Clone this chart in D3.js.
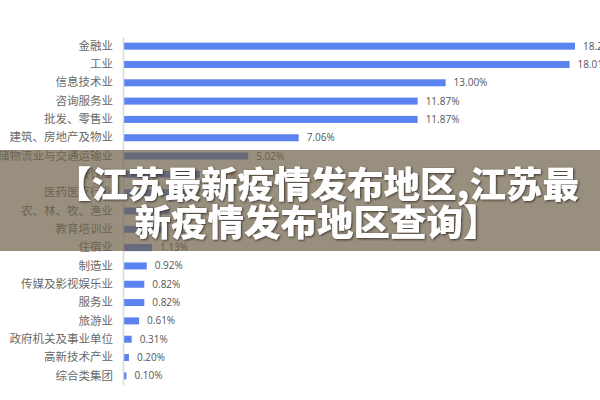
<!DOCTYPE html>
<html>
<head>
<meta charset="utf-8">
<script src="https://cdn.jsdelivr.net/npm/d3@7/dist/d3.min.js"></script>
<style>
  html, body { margin: 0; padding: 0; background: #fff; }
  svg { display: block; }
</style>
</head>
<body>
<svg id="chart" width="600" height="400"></svg>
<script>
const categories = ["金融业","工业","信息技术业","咨询服务业","批发、零售业","建筑、房地产及物业","仓储物流业与交通运输业","餐饮业","医药医疗行业","农、林、牧、渔业","教育培训业","住宿业","制造业","传媒及影视娱乐业","服务业","旅游业","政府机关及事业单位","高新技术产业","综合类集团"];
const values = [18.23,18.01,13.00,11.87,11.87,7.06,5.02,3.07,2.56,1.84,1.64,1.13,0.92,0.82,0.82,0.61,0.31,0.20,0.10];
const titleLines = ["【江苏最新疫情发布地区,江苏最","新疫情发布地区查询】"];

const svg = d3.select("#chart");
const x = d3.scaleLinear().domain([0, 18.23]).range([124, 575]);
const y = d3.scaleBand().domain(categories).range([37, 385]).paddingInner(0.6).paddingOuter(0.3);

const defs = svg.append("defs");
const f = defs.append("filter").attr("id","shadow").attr("x","-10%").attr("y","-30%").attr("width","120%").attr("height","160%");
f.append("feDropShadow").attr("dx",1).attr("dy",1).attr("stdDeviation",1.3).attr("flood-color","#2e271c").attr("flood-opacity",0.85);

// bars
svg.append("g").selectAll("rect").data(values).join("rect")
  .attr("x", x(0))
  .attr("y", (d,i) => y(categories[i]) + y.bandwidth()/2 - 3.5)
  .attr("width", d => x(d) - x(0))
  .attr("height", 7)
  .attr("fill", "#5b83f0");

// value labels
svg.append("g").selectAll("text").data(values).join("text")
  .attr("x", d => x(d) + 8)
  .attr("y", (d,i) => y(categories[i]) + y.bandwidth()/2)
  .attr("dy", "0.35em")
  .attr("font-family", "'Open Sans', 'Noto Sans', sans-serif")
  .attr("font-size", 10)
  .attr("fill", "#555")
  .text(d => d.toFixed(2) + "%");

// axis
const axis = svg.append("g").attr("transform", "translate(123,0)")
  .call(d3.axisLeft(y).tickSize(0).tickPadding(10));
axis.select(".domain").attr("stroke", "#d9d9d9").attr("stroke-width", 1.5);
axis.selectAll("text")
  .attr("font-family", "'Noto Sans CJK SC', sans-serif")
  .attr("font-size", 11.5)
  .attr("fill", "#6a6a6a");

// overlay banner
svg.append("rect").attr("x",0).attr("y",150).attr("width",600).attr("height",101)
  .attr("fill","rgb(108,96,71)").attr("fill-opacity",0.7);

svg.append("g").selectAll("text").data(titleLines).join("text")
  .attr("x", 317)
  .attr("y", (d,i) => 185 + i*38)
  .attr("dy","0.36em")
  .attr("text-anchor","middle")
  .attr("font-family","'Noto Sans CJK SC', sans-serif")
  .attr("font-weight", 900)
  .attr("font-size", 36.5)
  .attr("fill","#fff")
  .attr("filter","url(#shadow)")
  .text(d => d);
</script>
</body>
</html>
